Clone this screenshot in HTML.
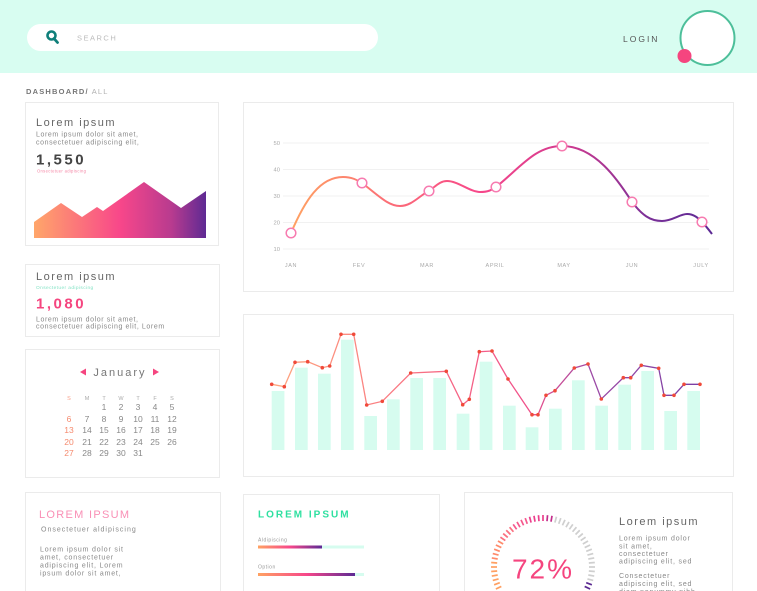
<!DOCTYPE html>
<html><head><meta charset="utf-8"><style>
html,body{margin:0;padding:0;background:#fff;width:757px;height:591px;overflow:hidden}
svg{display:block}
text{font-family:"Liberation Sans",sans-serif}
</style></head><body>
<svg width="757" height="591" viewBox="0 0 757 591" xmlns="http://www.w3.org/2000/svg">
<defs>
<linearGradient id="ga" x1="34" y1="0" x2="206" y2="0" gradientUnits="userSpaceOnUse">
<stop offset="0" stop-color="#ffa66a"/><stop offset="0.5" stop-color="#f8478a"/><stop offset="0.8" stop-color="#b83b8f"/><stop offset="1" stop-color="#5e2a93"/></linearGradient>
<linearGradient id="gl" x1="291" y1="0" x2="712" y2="0" gradientUnits="userSpaceOnUse">
<stop offset="0" stop-color="#ffa262"/><stop offset="0.25" stop-color="#fb6a78"/><stop offset="0.45" stop-color="#f7478a"/><stop offset="0.65" stop-color="#d33a8f"/><stop offset="0.85" stop-color="#7a3098"/><stop offset="1" stop-color="#5c2a94"/></linearGradient>
<linearGradient id="gb" x1="271" y1="0" x2="700" y2="0" gradientUnits="userSpaceOnUse">
<stop offset="0" stop-color="#ffa77e"/><stop offset="0.35" stop-color="#f86f83"/><stop offset="0.6" stop-color="#f0508a"/><stop offset="0.75" stop-color="#9c4aa6"/><stop offset="1" stop-color="#7a3fa4"/></linearGradient>
<linearGradient id="gp" x1="0" y1="0" x2="1" y2="0">
<stop offset="0" stop-color="#ffa262"/><stop offset="0.5" stop-color="#f7478a"/><stop offset="1" stop-color="#5c2a94"/></linearGradient>
</defs>

<!-- header -->
<rect x="0" y="0" width="757" height="73" fill="#d8fdf1"/>
<rect x="27" y="24" width="351" height="27" rx="13.5" fill="#fff"/>
<circle cx="51.5" cy="35.5" r="4" fill="none" stroke="#0f7f7a" stroke-width="2.6"/>
<line x1="54" y1="38.5" x2="57.5" y2="42.5" stroke="#0f7f7a" stroke-width="2.8" stroke-linecap="round"/>
<text x="77" y="40.5" font-size="7.5" letter-spacing="1.5" fill="#bcbcbc">SEARCH</text>
<text x="623" y="42" font-size="8.5" letter-spacing="2" fill="#555">LOGIN</text>
<circle cx="707.5" cy="38" r="27" fill="#fff" stroke="#4dbf9a" stroke-width="2"/>
<circle cx="684.5" cy="56" r="7" fill="#f5457f"/>

<text x="26" y="94" font-size="7.5" letter-spacing="1.2" fill="#777" font-weight="bold">DASHBOARD/<tspan font-weight="normal" fill="#b0b0b0"> ALL</tspan></text>

<!-- cards -->
<g fill="#fff" stroke="#ebebeb" stroke-width="1">
<rect x="25.5" y="102.5" width="193" height="143"/>
<rect x="25.5" y="264.5" width="194" height="72"/>
<rect x="25.5" y="349.5" width="194" height="128"/>
<rect x="25.5" y="492.5" width="195" height="110"/>
<rect x="243.5" y="102.5" width="490" height="189"/>
<rect x="243.5" y="314.5" width="490" height="162"/>
<rect x="243.5" y="494.5" width="196" height="110"/>
<rect x="464.5" y="492.5" width="268" height="110"/>
</g>

<!-- card1 -->
<text x="36" y="126" font-size="11" letter-spacing="1.5" fill="#666">Lorem ipsum</text>
<text x="36" y="136.5" font-size="7" letter-spacing="0.6" fill="#888">Lorem ipsum dolor sit amet,</text>
<text x="36" y="144.5" font-size="7" letter-spacing="0.6" fill="#888">consectetuer adipiscing elit,</text>
<text x="36" y="164.5" font-size="15" font-weight="bold" letter-spacing="2.5" fill="#444">1,550</text>
<text x="37" y="172.5" font-size="4.2" letter-spacing="0.3" fill="#f58aa8">Onsectetuer adipiscing</text>
<path d="M34,222 L61,203 L82,217 L97,207 L103,211 L144,182 L181,208 L206,191 L206,238 L34,238 Z" fill="url(#ga)"/>

<!-- card2 -->
<text x="36" y="280" font-size="11" letter-spacing="1.5" fill="#666">Lorem ipsum</text>
<text x="36" y="289" font-size="4.8" letter-spacing="0.4" fill="#86e3c6">Onsectetuer adipiscing</text>
<text x="36" y="308.5" font-size="15" font-weight="bold" letter-spacing="2.5" fill="#f5457f">1,080</text>
<text x="36" y="321.5" font-size="7" letter-spacing="0.6" fill="#888">Lorem ipsum dolor sit amet,</text>
<text x="36" y="328.5" font-size="7" letter-spacing="0.6" fill="#888">consectetuer adipiscing elit, Lorem</text>

<!-- calendar -->
<path d="M80,372 L86,368.5 L86,375.5 Z" fill="#f5457f"/>
<path d="M159,372 L153,368.5 L153,375.5 Z" fill="#f5457f"/>
<text x="120" y="376" font-size="11" letter-spacing="2" fill="#777" text-anchor="middle">January</text>
<g font-size="5.5" fill="#aaa" text-anchor="middle">
<text x="69" y="400" fill="#f9a08a">S</text><text x="87" y="400">M</text><text x="104" y="400">T</text><text x="121" y="400">W</text><text x="138" y="400">T</text><text x="155" y="400">F</text><text x="172" y="400">S</text>
</g>
<g font-size="8.5" fill="#888" text-anchor="middle">
<text x="104" y="410">1</text><text x="121" y="410">2</text><text x="138" y="410">3</text><text x="155" y="410">4</text><text x="172" y="410">5</text>
<text x="69" y="422" fill="#f58a6e">6</text><text x="87" y="422">7</text><text x="104" y="422">8</text><text x="121" y="422">9</text><text x="138" y="422">10</text><text x="155" y="422">11</text><text x="172" y="422">12</text>
<text x="69" y="433" fill="#f58a6e">13</text><text x="87" y="433">14</text><text x="104" y="433">15</text><text x="121" y="433">16</text><text x="138" y="433">17</text><text x="155" y="433">18</text><text x="172" y="433">19</text>
<text x="69" y="445" fill="#f58a6e">20</text><text x="87" y="445">21</text><text x="104" y="445">22</text><text x="121" y="445">23</text><text x="138" y="445">24</text><text x="155" y="445">25</text><text x="172" y="445">26</text>
<text x="69" y="456" fill="#f58a6e">27</text><text x="87" y="456">28</text><text x="104" y="456">29</text><text x="121" y="456">30</text><text x="138" y="456">31</text>
</g>

<!-- line chart -->
<g stroke="#f1f1f1" stroke-width="1">
<line x1="283" y1="143" x2="709" y2="143"/><line x1="283" y1="169.5" x2="709" y2="169.5"/><line x1="283" y1="196" x2="709" y2="196"/><line x1="283" y1="222.5" x2="709" y2="222.5"/><line x1="283" y1="249" x2="709" y2="249"/>
</g>
<g font-size="5.8" fill="#aaa" text-anchor="end">
<text x="280" y="145">50</text><text x="280" y="171.5">40</text><text x="280" y="198">30</text><text x="280" y="224.5">20</text><text x="280" y="251">10</text>
</g>
<g font-size="5.5" fill="#aaa" text-anchor="middle" letter-spacing="0.6">
<text x="291" y="267">JAN</text><text x="359" y="267">FEV</text><text x="427" y="267">MAR</text><text x="495" y="267">APRIL</text><text x="564" y="267">MAY</text><text x="632" y="267">JUN</text><text x="701" y="267">JULY</text>
</g>
<path d="M291,233 C305,200 320,177 343,177 C352,177 357,180 362,183 C378,195 388,206 400,206 C412,206 420,195 429,191 C436,186 440,181 447,181 C458,181 470,192 480,192 C488,192 492,190 496,187 C520,168 535,146 562,146 C595,146 618,180 632,202 C642,215 650,221 662,221 C672,221 680,214 687,214 C694,214 698,218 702,222 C706,226 709,230 712,234" fill="none" stroke="url(#gl)" stroke-width="2"/>
<g fill="#fff" stroke="#f77bb0" stroke-width="1.5">
<circle cx="291" cy="233" r="4.8"/><circle cx="362" cy="183" r="4.8"/><circle cx="429" cy="191" r="4.8"/><circle cx="496" cy="187" r="4.8"/><circle cx="562" cy="146" r="4.8"/><circle cx="632" cy="202" r="4.8"/><circle cx="702" cy="222" r="4.8"/>
</g>

<!-- bar chart -->
<g fill="#d6fcef">
<rect x="271.7" y="391" width="12.7" height="59"/>
<rect x="295" y="367.7" width="12.7" height="82.3"/>
<rect x="318" y="373.7" width="12.7" height="76.3"/>
<rect x="341" y="339.7" width="12.7" height="110.3"/>
<rect x="364.3" y="416" width="12.7" height="34"/>
<rect x="387" y="399.3" width="12.7" height="50.7"/>
<rect x="410.3" y="378" width="12.7" height="72"/>
<rect x="433.3" y="378" width="12.7" height="72"/>
<rect x="456.7" y="413.7" width="12.7" height="36.3"/>
<rect x="479.7" y="361.7" width="12.7" height="88.3"/>
<rect x="503" y="405.7" width="12.7" height="44.3"/>
<rect x="525.7" y="427.3" width="12.7" height="22.7"/>
<rect x="549" y="408.7" width="12.7" height="41.3"/>
<rect x="572" y="380.3" width="12.7" height="69.7"/>
<rect x="595.3" y="405.7" width="12.7" height="44.3"/>
<rect x="618.3" y="384.7" width="12.7" height="65.3"/>
<rect x="641.3" y="371" width="12.7" height="79"/>
<rect x="664.3" y="411" width="12.7" height="39"/>
<rect x="687.3" y="391" width="12.7" height="59"/>
</g>
<polyline fill="none" stroke="url(#gb)" stroke-width="1.3" points="271.7,384.3 284.3,386.7 295,362.3 307.7,361.7 322.3,367.7 329.7,366 341,334.3 353.7,334.3 366.7,405 382.3,401.3 410.7,373 446.3,371.3 462.7,404.7 469.3,399.3 479.3,351.7 492,351 508,379 532,414.7 538,414.7 546,395.3 555,390.7 574.3,368 588,364 601.3,399 623.3,377.7 630.7,377.7 641.3,365.3 658.7,368.3 664,395.3 674,395.3 684,384.3 700,384.3"/>
<g fill="#f04a3a">
<circle cx="271.7" cy="384.3" r="1.8"/><circle cx="284.3" cy="386.7" r="1.8"/><circle cx="295" cy="362.3" r="1.8"/><circle cx="307.7" cy="361.7" r="1.8"/><circle cx="322.3" cy="367.7" r="1.8"/><circle cx="329.7" cy="366" r="1.8"/><circle cx="341" cy="334.3" r="1.8"/><circle cx="353.7" cy="334.3" r="1.8"/><circle cx="366.7" cy="405" r="1.8"/><circle cx="382.3" cy="401.3" r="1.8"/><circle cx="410.7" cy="373" r="1.8"/><circle cx="446.3" cy="371.3" r="1.8"/><circle cx="462.7" cy="404.7" r="1.8"/><circle cx="469.3" cy="399.3" r="1.8"/><circle cx="479.3" cy="351.7" r="1.8"/><circle cx="492" cy="351" r="1.8"/><circle cx="508" cy="379" r="1.8"/><circle cx="532" cy="414.7" r="1.8"/><circle cx="538" cy="414.7" r="1.8"/><circle cx="546" cy="395.3" r="1.8"/><circle cx="555" cy="390.7" r="1.8"/><circle cx="574.3" cy="368" r="1.8"/><circle cx="588" cy="364" r="1.8"/><circle cx="601.3" cy="399" r="1.8"/><circle cx="623.3" cy="377.7" r="1.8"/><circle cx="630.7" cy="377.7" r="1.8"/><circle cx="641.3" cy="365.3" r="1.8"/><circle cx="658.7" cy="368.3" r="1.8"/><circle cx="664" cy="395.3" r="1.8"/><circle cx="674" cy="395.3" r="1.8"/><circle cx="684" cy="384.3" r="1.8"/><circle cx="700" cy="384.3" r="1.8"/>
</g>

<!-- bottom left card -->
<text x="39" y="518" font-size="11" letter-spacing="1.3" fill="#f98fb5">LOREM IPSUM</text>
<text x="41" y="531.5" font-size="7" letter-spacing="1" fill="#888">Onsectetuer aldipiscing</text>
<g font-size="7" letter-spacing="0.8" fill="#888">
<text x="40" y="551.5">Lorem ipsum dolor sit</text>
<text x="40" y="559.5">amet, consectetuer</text>
<text x="40" y="567.5">adipiscing elit, Lorem</text>
<text x="40" y="575.5">ipsum dolor sit amet,</text>
<text x="40" y="597">consectetuer adipiscing</text>
</g>

<!-- bottom middle card -->
<text x="258" y="517.5" font-size="10" font-weight="bold" letter-spacing="2" fill="#2ee0a0">LOREM IPSUM</text>
<text x="258" y="541.5" font-size="5" letter-spacing="0.5" fill="#999">Aldipiscing</text>
<rect x="258" y="545.5" width="106" height="3" fill="#d6fcef"/>
<rect x="258" y="545.5" width="64" height="3" fill="url(#gp)"/>
<text x="258" y="568.5" font-size="5" letter-spacing="0.5" fill="#999">Option</text>
<rect x="258" y="573" width="106" height="3" fill="#d6fcef"/>
<rect x="258" y="573" width="97" height="3" fill="url(#gp)"/>
<text x="258" y="595" font-size="5" letter-spacing="0.5" fill="#999">Option</text>

<!-- bottom right card -->
<text x="619" y="525" font-size="11" letter-spacing="1.5" fill="#666">Lorem ipsum</text>
<g font-size="7" letter-spacing="0.8" fill="#888">
<text x="619" y="540.5">Lorem ipsum dolor</text>
<text x="619" y="548.5">sit amet,</text>
<text x="619" y="556">consectetuer</text>
<text x="619" y="563.5">adipiscing elit, sed</text>
<text x="619" y="578">Consectetuer</text>
<text x="619" y="586">adipiscing elit, sed</text>
<text x="619" y="594">diam nonummy nibh</text>
</g>
<text x="543" y="578.5" font-size="28" letter-spacing="2" fill="#f5457f" text-anchor="middle">72%</text>
<g stroke-width="1.7">
<g stroke="#cfcfcf">
<line x1="543" y1="515" x2="543" y2="521" transform="rotate(15 543 567)"/>
<line x1="543" y1="515" x2="543" y2="521" transform="rotate(20 543 567)"/>
<line x1="543" y1="515" x2="543" y2="521" transform="rotate(25 543 567)"/>
<line x1="543" y1="515" x2="543" y2="521" transform="rotate(30 543 567)"/>
<line x1="543" y1="515" x2="543" y2="521" transform="rotate(35 543 567)"/>
<line x1="543" y1="515" x2="543" y2="521" transform="rotate(40 543 567)"/>
<line x1="543" y1="515" x2="543" y2="521" transform="rotate(45 543 567)"/>
<line x1="543" y1="515" x2="543" y2="521" transform="rotate(50 543 567)"/>
<line x1="543" y1="515" x2="543" y2="521" transform="rotate(55 543 567)"/>
<line x1="543" y1="515" x2="543" y2="521" transform="rotate(60 543 567)"/>
<line x1="543" y1="515" x2="543" y2="521" transform="rotate(65 543 567)"/>
<line x1="543" y1="515" x2="543" y2="521" transform="rotate(70 543 567)"/>
<line x1="543" y1="515" x2="543" y2="521" transform="rotate(75 543 567)"/>
<line x1="543" y1="515" x2="543" y2="521" transform="rotate(80 543 567)"/>
<line x1="543" y1="515" x2="543" y2="521" transform="rotate(85 543 567)"/>
<line x1="543" y1="515" x2="543" y2="521" transform="rotate(90 543 567)"/>
<line x1="543" y1="515" x2="543" y2="521" transform="rotate(95 543 567)"/>
<line x1="543" y1="515" x2="543" y2="521" transform="rotate(100 543 567)"/>
<line x1="543" y1="515" x2="543" y2="521" transform="rotate(105 543 567)"/>
</g>
<g stroke="#5b2a91">
<line x1="543" y1="515" x2="543" y2="521" transform="rotate(110 543 567)"/>
<line x1="543" y1="515" x2="543" y2="521" transform="rotate(115 543 567)"/>
</g>
<g stroke="#ffa062">
<line x1="543" y1="515" x2="543" y2="521" transform="rotate(245 543 567)"/>
<line x1="543" y1="515" x2="543" y2="521" transform="rotate(250 543 567)"/>
<line x1="543" y1="515" x2="543" y2="521" transform="rotate(255 543 567)"/>
<line x1="543" y1="515" x2="543" y2="521" transform="rotate(260 543 567)"/>
<line x1="543" y1="515" x2="543" y2="521" transform="rotate(265 543 567)"/>
<line x1="543" y1="515" x2="543" y2="521" transform="rotate(270 543 567)"/>
<line x1="543" y1="515" x2="543" y2="521" transform="rotate(275 543 567)"/>
</g>
<g stroke="#ff8a6a">
<line x1="543" y1="515" x2="543" y2="521" transform="rotate(280 543 567)"/>
<line x1="543" y1="515" x2="543" y2="521" transform="rotate(285 543 567)"/>
<line x1="543" y1="515" x2="543" y2="521" transform="rotate(290 543 567)"/>
<line x1="543" y1="515" x2="543" y2="521" transform="rotate(295 543 567)"/>
<line x1="543" y1="515" x2="543" y2="521" transform="rotate(300 543 567)"/>
</g>
<g stroke="#fb6f7f">
<line x1="543" y1="515" x2="543" y2="521" transform="rotate(305 543 567)"/>
<line x1="543" y1="515" x2="543" y2="521" transform="rotate(310 543 567)"/>
<line x1="543" y1="515" x2="543" y2="521" transform="rotate(315 543 567)"/>
<line x1="543" y1="515" x2="543" y2="521" transform="rotate(320 543 567)"/>
</g>
<g stroke="#f5588d">
<line x1="543" y1="515" x2="543" y2="521" transform="rotate(325 543 567)"/>
<line x1="543" y1="515" x2="543" y2="521" transform="rotate(330 543 567)"/>
<line x1="543" y1="515" x2="543" y2="521" transform="rotate(335 543 567)"/>
<line x1="543" y1="515" x2="543" y2="521" transform="rotate(340 543 567)"/>
</g>
<g stroke="#eb3f8c">
<line x1="543" y1="515" x2="543" y2="521" transform="rotate(345 543 567)"/>
<line x1="543" y1="515" x2="543" y2="521" transform="rotate(350 543 567)"/>
<line x1="543" y1="515" x2="543" y2="521" transform="rotate(355 543 567)"/>
<line x1="543" y1="515" x2="543" y2="521"/>
</g>
<g stroke="#c42f8c">
<line x1="543" y1="515" x2="543" y2="521" transform="rotate(5 543 567)"/>
<line x1="543" y1="515" x2="543" y2="521" transform="rotate(10 543 567)"/>
</g>
</g>
</svg>
</body></html>
